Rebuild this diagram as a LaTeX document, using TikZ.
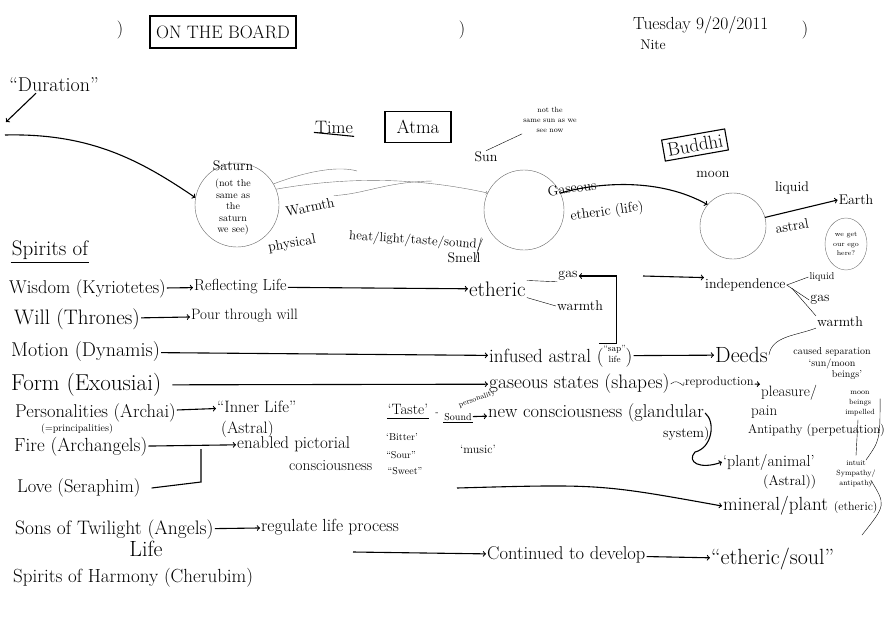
\documentclass[tikz,border=0pt]{standalone}
\usetikzlibrary{shapes.geometric}
\newcommand{\hsz}[1]{\fontsize{#1}{#1}\selectfont}
\begin{document}
\begin{tikzpicture}[x=1pt,y=-1pt,
    every node/.style={inner sep=1pt},
    huge/.style={font=\hsz{22}},
    big/.style={font=\hsz{18}},
    med/.style={font=\hsz{14}},
    sml/.style={font=\fontsize{10}{11.5}\selectfont},
    tny/.style={font=\fontsize{7.5}{10}\selectfont},
    row/.style={big,anchor=west},
    planet/.style={circle,draw=black!60,thin},
    boxed/.style={draw,line width=1.1pt,inner sep=4pt},
    arr/.style={->,line width=1.1pt},
    pen/.style={line width=1.1pt},
    faint/.style={draw=black!55,thin}]
    \useasboundingbox (0,0) rectangle (889,641);
    \node[big] (b1) at (120,30) {)};
    \node[big] (b2) at (462,30) {)};
    \node[big] (b3) at (805,30) {)};
    \node[boxed,big,minimum width=146pt,minimum height=32pt] (board) at (223,32) {ON THE BOARD};
    \node[anchor=west,font=\hsz{17.5}] (date) at (632,25) {Tuesday 9/20/2011};
    \node[med] (nite) at (653,45) {Nite};
    \node[font=\hsz{20}] (dur) at (54,85) {``Duration''};
    \coordinate (durtip) at (6,122);
    \coordinate (flow) at (5,135);
    \node[big] (time) at (334,127) {Time};
    \node[boxed,font=\hsz{19},minimum width=66pt,minimum height=31pt] (atma) at (418,127) {Atma};
    \node[planet,minimum size=84pt] (sat) at (237,205) {};
    \node[med] (satname) at (233,166) {Saturn};
    \node[sml,align=center] (satnote) at (233,207) {(not the\\same as\\the\\saturn\\we see)};
    \node[med,rotate=12] (warmth) at (310,207) {Warmth};
    \node[med,rotate=10] (phys) at (292,244) {physical};
    \coordinate (wend) at (357,171);
    \coordinate (join) at (432,181);
    \node[font=\hsz{13},anchor=west,rotate=-4] (senses) at (348,236) {heat/light/taste/sound/};
    \node[med] (smell) at (464,258) {Smell};
    \node[planet,minimum size=80pt] (sun) at (524,210) {};
    \node[med] (sunname) at (486,157) {Sun};
    \node[tny,align=center] (sunnote) at (550,120) {not the\\same sun as we\\see now};
    \node[med,rotate=8] (gaseous1) at (572,188) {Gaseous};
    \node[med,rotate=8] (ethlife) at (607,212) {etheric (life)};
    \node[boxed,font=\hsz{19},rotate=10] (buddhi) at (695,145) {Buddhi};
    \node[med] (moonname) at (713,174) {moon};
    \node[planet,minimum size=66pt] (moon) at (733,226) {};
    \node[med] (liquid) at (792,188) {liquid};
    \node[med,rotate=10] (astral) at (792,226) {astral};
    \node[med] (earth) at (856,200) {Earth};
    \node[ellipse,faint,minimum width=42pt,minimum height=52pt] (ego) at (846,244) {};
    \node[font=\fontsize{7}{9.5}\selectfont,align=center] (egonote) at (846,244) {we get\\our ego\\here?};
    \node[font=\hsz{21}] (spirits) at (50,250) {Spirits of};
    \node[row,font=\hsz{18.5}] (wisdom) at (8,289) {Wisdom (Kyriotetes)};
    \node[anchor=west,font=\hsz{16}] (refl) at (193,287) {Reflecting Life};
    \node[anchor=west,font=\hsz{21}] (etheric) at (468,289) {etheric};
    \node[med] (gas) at (568,276) {gas};
    \node[med] (warm1) at (580,306) {warmth};
    \node[row,font=\hsz{21}] (will) at (13,319) {Will (Thrones)};
    \node[anchor=west,font=\hsz{15}] (pour) at (190,316) {Pour through will};
    \node[row,font=\hsz{20}] (motion) at (10,352) {Motion (Dynamis)};
    \node[anchor=west,font=\hsz{19}] (infused) at (488,356) {infused astral (\shortstack{\small``sap''\\\small life})};
    \node[huge,anchor=west] (deeds) at (714,355) {Deeds};
    \coordinate (indstart) at (643,276);
    \node[med,anchor=west] (indep) at (704,285) {independence};
    \node[sml] (liquid2) at (822,277) {liquid};
    \node[med] (gas2) at (820,300) {gas};
    \node[med] (warm2) at (840,322) {warmth};
    \node[sml,align=center] (caused) at (832,364) {caused separation\\`sun/moon\\\hspace*{30pt}beings'};
    \node[row,font=\hsz{23}] (form) at (10,385) {Form (Exousiai)};
    \node[anchor=west,font=\hsz{19.5}] (gaseous) at (488,384) {gaseous states (shapes)};
    \node[anchor=west,font=\hsz{12.5}] (repro) at (684,382) {reproduction};
    \node[anchor=west,font=\hsz{15}] (pleasure) at (760,393) {pleasure/};
    \node[anchor=west,font=\hsz{15}] (pain) at (750,412) {pain};
    \node[anchor=west,font=\hsz{12.5}] (antip) at (747,430) {Antipathy (perpetuation)};
    \node[tny,align=center] (impelled) at (860,404) {moon\\beings\\impelled};
    \node[row,font=\hsz{18.5}] (pers) at (14,413) {Personalities (Archai)};
    \node[sml,anchor=west] (princ) at (40,429) {(=principalities)};
    \node[anchor=west,font=\hsz{16.5}] (inner) at (216,407) {``Inner Life''};
    \node[anchor=west,font=\hsz{16.5}] (astral1) at (220,429) {(Astral)};
    \node[font=\hsz{15}] (taste) at (408,409) {`Taste'};
    \node (dash) at (437,414) {-};
    \node[sml] (sound) at (458,417) {Sound};
    \node[tny,rotate=20] (person) at (477,399) {personality};
    \node[anchor=west,font=\hsz{18.5}] (newc) at (487,413) {new consciousness (glandular};
    \node[med,anchor=west] (system) at (662,434) {system)};
    \node[sml] (bitter) at (402,437) {`Bitter'};
    \node[sml] (sour) at (401,455) {``Sour''};
    \node[sml] (sweet) at (405,471) {``Sweet''};
    \node[font=\hsz{12}] (music) at (478,449) {`music'};
    \node[row,font=\hsz{19}] (fire) at (13,447) {Fire (Archangels)};
    \node[anchor=west,font=\hsz{17}] (pict) at (236,444) {enabled pictorial};
    \node[anchor=west,font=\hsz{15.5}] (consc) at (288,466) {consciousness};
    \node[row,font=\hsz{18.5}] (love) at (16,488) {Love (Seraphim)};
    \coordinate (lovejoin) at (201,449);
    \node[anchor=west,font=\hsz{16}] (plantan) at (722,462) {`plant/animal'};
    \node[med,anchor=west] (astral2) at (762,482) {(Astral))};
    \node[tny,align=center] (symp) at (856,474) {intuit\\Sympathy/\\antipathy};
    \coordinate (mstart) at (457,488);
    \node[anchor=west,font=\hsz{19}] (mineral) at (722,506) {mineral/plant \hsz{12}(etheric)};
    \node[row,font=\hsz{19.5}] (sons) at (14,530) {Sons of Twilight (Angels)};
    \node[anchor=west,font=\hsz{17.5}] (regulate) at (260,527) {regulate life process};
    \node[font=\hsz{22}] (life) at (146,549) {Life};
    \coordinate (lstart) at (353,552);
    \node[anchor=west,font=\hsz{18.5}] (cont) at (486,555) {Continued to develop};
    \node[huge,anchor=west] (soul) at (710,559) {``etheric/soul''};
    \node[row,font=\hsz{19}] (harmony) at (12,578) {Spirits of Harmony (Cherubim)};
    \draw[arr] (dur.south) ++(-18,0) -- (durtip);
    \draw[arr] (flow) .. controls (90,133) and (140,160) .. (sat.170);
    \draw[pen] ([yshift=2pt]time.south west) -- ([yshift=-2pt]time.south east);
    \draw[faint] (sat.30) .. controls (310,170) and (340,166) .. (wend);
    \draw[faint,->] (sat.22) .. controls (350,176) and (420,178) .. (sun.155);
    \draw[faint] (warmth.north east) .. controls (365,194) and (385,182) .. (join);
    \draw[thin] (sunname.north) -- (sunnote.south west);
    \draw[thin] (senses.east) ++(-3,-8) -- ++(-6,24);
    \draw[arr] (sun.25) .. controls (600,182) and (660,178) .. (moon.140);
    \draw[arr] (moon.15) -- (earth.west);
    \draw[pen] ([yshift=-2pt]spirits.south west) -- ([yshift=-2pt]spirits.south east);
    \draw[arr] (wisdom) -- (refl);
    \draw[arr] (refl) -- (etheric);
    \draw[thin] (etheric.north east) -- (gas.south west);
    \draw[thin] (etheric.south east) -- (warm1.west);
    \draw[arr] (will) -- (pour);
    \draw[arr] (motion) -- (infused);
    \draw[arr] ([xshift=38pt]infused.north) -- ++(18,0) |- (gas.east);
    \draw[arr] (infused) -- (deeds);
    \draw[arr] (indstart) -- (indep.north west);
    \draw[thin] (indep.east) -- (liquid2.west);
    \draw[thin] (indep.east) -- (gas2.west);
    \draw[thin] (indep.east) ++(5,3) -- (warm2.north west);
    \draw[thin] (warm2.south west) .. controls (795,336) and (772,336) .. (deeds.east);
    \draw[arr,shorten <=10pt] (form) -- (gaseous);
    \draw[thin] (gaseous.east) .. controls (680,376) and (684,392) .. (repro.west);
    \draw[arr] (repro) -- (pleasure.north west);
    \draw[thin] (impelled.south) ++(-2,2) -- ++(-2,36);
    \draw[thin] (antip.north east) ++(-6,-24) .. controls (880,440) .. (866,460);
    \draw[arr] (pers) -- (inner);
    \draw[pen] ([yshift=-3pt]taste.south west) -- ([yshift=-3pt]taste.south east);
    \draw[pen] ([yshift=-1pt]sound.south west) -- ([yshift=-1pt]sound.south east);
    \draw[arr] (sound) -- (newc);
    \draw[arr] (newc.east) .. controls (716,422) and (712,448) .. (695,452) .. controls (686,462) and (700,470) .. (plantan.west);
    \draw[arr] (fire) -- (pict);
    \draw[pen] ([xshift=10pt]love.east) -- (201,482) -- (lovejoin);
    \draw[arr] (mstart) .. controls (600,484) .. (mineral.west);
    \draw[thin] (mineral.east) ++(-8,-26) .. controls (886,505) .. (862,535);
    \draw[arr] (sons) -- (regulate);
    \draw[arr] (lstart) -- (cont);
    \draw[arr] (cont) -- (soul);
\end{tikzpicture}
\end{document}
